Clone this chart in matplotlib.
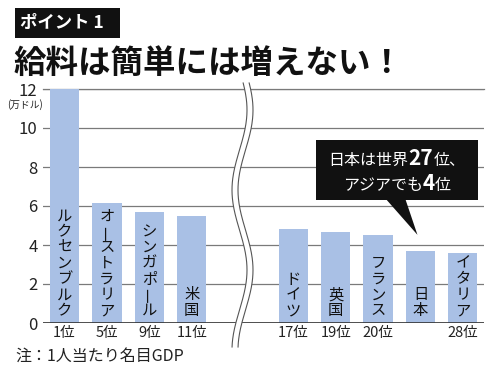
import numpy as np
import matplotlib
matplotlib.use('Agg')
import matplotlib.pyplot as plt
from matplotlib.patches import Rectangle, Polygon

plt.rcParams['font.family'] = ['Noto Sans CJK JP', 'DejaVu Sans']

# データ（1人当たり名目GDP、万ドル）
countries = ['ルクセンブルク', 'オーストラリア', 'シンガポール', '米国',
             'ドイツ', '英国', 'フランス', '日本', 'イタリア']
values = [12.0, 6.15, 5.7, 5.5, 4.8, 4.65, 4.5, 3.7, 3.6]
ranks = ['1位', '5位', '9位', '11位', '17位', '19位', '20位', '', '28位']
yticks = [0, 2, 4, 6, 8, 10, 12]

W, H = 500, 379
fig = plt.figure(figsize=(W / 100, H / 100), dpi=100)


def P(x, y):
    # 画像ピクセル（左上原点）→ figure座標
    return (x / W, 1 - y / H)


ax = fig.add_axes([43 / W, 1 - 323 / H, (484 - 43) / W, (323 - 89) / H])

pos = [0, 1, 2, 3, 5.4, 6.4, 7.4, 8.4, 9.4]
ax.bar(pos, values, width=0.69, color='#a9c0e5', zorder=2)
ax.set_xlim(-0.51, 9.9)
ax.set_ylim(0, 12)
ax.set_yticks(yticks)
ax.set_xticks([])
ax.tick_params(axis='y', length=0, pad=4, labelsize=12, labelcolor='#222')
for s in ax.spines.values():
    s.set_visible(False)
ax.yaxis.grid(True, color='#7a7a7a', lw=0.9)
ax.set_axisbelow(True)
ax.axhline(0, color='#333', lw=1.2, zorder=3)
ax.axhline(12, color='#7a7a7a', lw=0.9, zorder=1, clip_on=False)

# 棒の中の縦書きラベル
pt = 72 / 100
for x, name in zip(pos, countries):
    chars = list(name)
    n = len(chars)
    for i, ch in enumerate(chars):
        off = 12.5 + (n - 1 - i) * 15.7
        rot = 90 if ch == 'ー' else 0
        if ch == 'ー':
            ch = '―'
        ax.annotate(ch, (x, 0), xytext=(0, off * pt), textcoords='offset points',
                    ha='center', va='center', fontsize=11, rotation=rot,
                    color='#111', zorder=4)

# 順位
for x, r in zip(pos, ranks):
    ax.annotate(r, (x, 0), xytext=(0, -10.5 * pt), textcoords='offset points',
                ha='center', va='center', fontsize=10.5, color='#222')

# 単位
fig.text(*P(25, 105), '(万ドル)', ha='center', va='center', fontsize=7, color='#222')

# 省略の波線
yy = np.linspace(83, 347, 200)
xc = 242.5 - 7.5 * np.cos(np.pi * (yy - 190) / 80)
left = np.array([P(x - 3, y) for x, y in zip(xc, yy)])
right = np.array([P(x + 3, y) for x, y in zip(xc, yy)])
fig.add_artist(Polygon(np.vstack([left, right[::-1]]), closed=True,
                       transform=fig.transFigure, facecolor='white',
                       edgecolor='none', zorder=5))
for c in (left, right):
    fig.add_artist(plt.Line2D(c[:, 0], c[:, 1], transform=fig.transFigure,
                              color='#555', lw=0.8, zorder=6))

# タイトル
fig.add_artist(Rectangle(P(15, 38), 105 / W, 30 / H, transform=fig.transFigure,
                         facecolor='#111', edgecolor='none'))
fig.text(*P(20, 23), 'ポイント 1', ha='left', va='center', fontsize=12.5,
         fontweight='bold', color='white')
fig.text(*P(13, 63), '給料は簡単には増えない！', ha='left', va='center',
         fontsize=23.4, fontweight='bold', color='#111')

# 注
fig.text(*P(15, 356), '注：1人当たり名目GDP', ha='left', va='center',
         fontsize=11.5, color='#222')

# 吹き出し
fig.add_artist(Rectangle(P(316, 200), 162 / W, 60 / H, transform=fig.transFigure,
                         facecolor='#111', edgecolor='none', zorder=7))
fig.canvas.draw()
jx, jy = ax.transData.transform((pos[7], values[7]))
tip = ((jx - 3) / W, (jy + 16) / H)
fig.add_artist(Polygon([P(385, 198), P(405, 198), tip], closed=True,
                       transform=fig.transFigure, facecolor='#111',
                       edgecolor='none', zorder=7))


def rich_line(segs, xc, y):
    r = fig.canvas.get_renderer()
    ts = [fig.text(0, 0, s, va='baseline', color='white', zorder=8, **kw)
          for s, kw in segs]
    ws = [t.get_window_extent(r).width for t in ts]
    x = xc - sum(ws) / 2
    for t, w in zip(ts, ws):
        t.set_position(P(x, y))
        x += w


norm = dict(fontsize=11.5)
big = dict(fontsize=15, fontweight='bold')
rich_line([('日本は世界', norm), ('27', big), ('位、', norm)], 397, 165)
rich_line([('アジアでも', norm), ('4', big), ('位', norm)], 397, 190)

fig.savefig('out.png', dpi=100)
